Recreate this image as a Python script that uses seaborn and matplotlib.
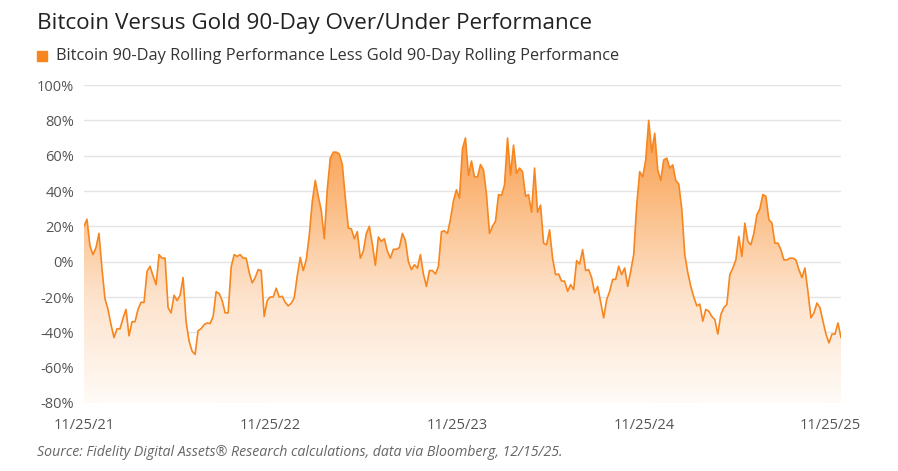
import numpy as np
import pandas as pd
import matplotlib
matplotlib.use("Agg")
import matplotlib.pyplot as plt
import matplotlib.dates as mdates
from matplotlib.colors import LinearSegmentedColormap
import seaborn as sns

# Bitcoin 90-day rolling performance less gold 90-day rolling performance (%)
# roughly every 6 days from 11/25/21 to 12/15/25
perf = [
    20, 24, 9, 4, 8, 16, -4, -21, -27, -35.6, -43, -38, -38, -32, -27, -42, -34, -34, -27, -23, -23,
    -5.5, -2.6, -8, -13, 4, 2, 2, -26, -29, -19, -22, -19, -9, -34, -45, -50.7, -52.5, -39, -38, -35.6, -34.7,
    -35, -31, -17, -18, -22, -29, -29, -3, 4, 3, 4, 2, 2, -6, -12, -9, -4.5, -5, -31, -22, -20,
    -20, -15, -20, -19.6, -23, -25, -23.5, -20.5, -8, 2.4, -5, 1, 15, 34, 46, 37, 29, 13, 41, 58.6, 62,
    62, 61, 55, 36, 19, 18.6, 13, 17, 2, 6, 16, 20, 10, -2, 14, 11.5, 13, 6, 2, 7, 7,
    8, 16, 12, 0, -4.5, -1.7, -3.6, 4, -7, -14, -5, -5, -7, -2.6, 17, 17.5, 16, 24, 34.5, 40.7, 36,
    64, 70, 49, 57, 48, 48, 55, 52, 38, 16, 20, 23, 38, 37.5, 43.5, 70, 49, 66, 50, 53, 51,
    37, 38, 28, 53, 28, 32, 10.5, 9.6, 18, 2, -7.3, -7, -11, -11, -16.8, -13, -15.8, 0.6, -1.3, 6.8, -5,
    -4.5, -9, -17.7, -14, -23, -31.8, -21.5, -16.8, -10, -10, -2.6, -7.3, -3.6, -14, -5.5, 4, 32, 51, 48, 57.6, 80,
    62, 72.7, 52, 46, 57.6, 58.6, 53, 54.8, 46, 44, 30, 4, -6, -14, -20, -25, -24, -33.7, -27, -28, -31,
    -32.8, -41, -30, -26, -24.3, -7.3, -3.6, 1, 14.3, 3, 21.8, 11.5, 9.6, 16, 26.5, 30, 38, 37, 23.7, 22, 10.5,
    10.5, 6.8, 1, 1, 2, 2, 1, -4.5, -9, -3.6, -16.8, -31.8, -29, -23.4, -26, -33.7, -41, -46, -41, -41, -34.7, -43,
]
start_date = "2021-11-25"
end_date = "2025-12-15"

tick_dates = ["2021-11-25", "2022-11-25", "2023-11-25", "2024-11-25", "2025-11-25"]
tick_labels = ["11/25/21", "11/25/22", "11/25/23", "11/25/24", "11/25/25"]
y_ticks = [-80, -60, -40, -20, 0, 20, 40, 60, 80, 100]

title = "Bitcoin Versus Gold 90-Day Over/Under Performance"
legend_label = "Bitcoin 90-Day Rolling Performance Less Gold 90-Day Rolling Performance"
source = "Source: Fidelity Digital Assets\u00ae Research calculations, data via Bloomberg, 12/15/25."

ORANGE = "#f7861f"

df = pd.DataFrame({
    "date": pd.date_range(start_date, end_date, periods=len(perf)),
    "perf": perf,
})

sns.set_style("white")
plt.rcParams["font.family"] = ["Open Sans", "DejaVu Sans"]

fig = plt.figure(figsize=(8.98, 4.71), dpi=100)
ax = fig.add_axes([0.0935, 0.1444, 0.843, 0.675])

# gradient area under the line
poly = ax.fill_between(df["date"], df["perf"], -80, color="none", lw=0)
x0 = mdates.date2num(df["date"].iloc[0])
x1 = mdates.date2num(df["date"].iloc[-1])
cmap = LinearSegmentedColormap.from_list("fade", ["#fffbf7", "#fde3cc", "#fbb77a", "#f98d2e"])
grad = ax.imshow(np.linspace(1, 0, 256).reshape(-1, 1), cmap=cmap, aspect="auto",
                 extent=[x0, x1, -80, 100], origin="upper", zorder=1)
grad.set_clip_path(poly.get_paths()[0], transform=ax.transData)

sns.lineplot(data=df, x="date", y="perf", ax=ax, color=ORANGE, lw=1.2, zorder=3)

ax.set_xlim(x0, x1)
ax.set_ylim(-80, 100)
ax.set_yticks(y_ticks)
ax.set_yticklabels([f"{v}%" for v in y_ticks])
ax.set_xticks(pd.to_datetime(tick_dates))
ax.set_xticklabels(tick_labels)
ax.set_xlabel("")
ax.set_ylabel("")

ax.grid(axis="y", color="#e4e4e4", lw=1, zorder=0)
ax.set_axisbelow(True)
for s in ax.spines.values():
    s.set_visible(False)
ax.tick_params(axis="y", length=0, labelsize=10.5, labelcolor="#555555", pad=7)
ax.tick_params(axis="x", length=5, width=1, color="#dddddd", labelsize=10.5,
               labelcolor="#555555", pad=6, direction="out")

fig.text(0.041, 0.951, title, fontsize=16.2, color="#222222", va="center", ha="left")
fig.patches.append(plt.Rectangle((0.041, 0.870), 0.0112, 0.0215, transform=fig.transFigure,
                                 color=ORANGE, figure=fig))
fig.text(0.0625, 0.881, legend_label, fontsize=11.8, color="#333333", va="center", ha="left")
fig.text(0.041, 0.039, source, fontsize=10.2, color="#666666", style="italic",
         va="center", ha="left")

fig.savefig("out.png", dpi=100)
